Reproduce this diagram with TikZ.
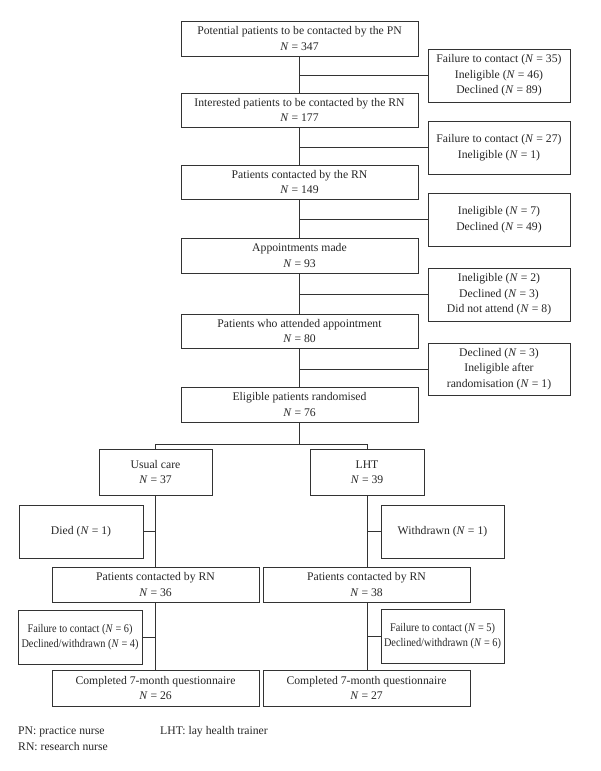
\documentclass[tikz,border=0pt]{standalone}
\usepackage{fontspec}
\setmainfont{Liberation Serif}
\begin{document}
\begin{tikzpicture}[x=1pt,y=-1pt,
  every node/.style={font=\fontsize{11.7}{15.5}\selectfont, text=black!85},
  box/.style={draw=black!80, line width=0.8pt, align=center, inner sep=0pt, anchor=center},
  narrow/.style={font=\fontsize{11.7}{15.5}\selectfont\addfontfeature{FakeStretch=0.88}},
  conn/.style={draw=black!80, line width=0.8pt},
  legend/.style={anchor=west, inner sep=0pt}]
\useasboundingbox (0,0) rectangle (600,771);
\newcommand{\Nv}{\textit{N}}
% main column
\node[box, minimum width=237pt, minimum height=35pt] (b1) at (299.5,38.5) {Potential patients to be contacted by the PN\\ \Nv{} = 347};
\node[box, minimum width=237pt, minimum height=34pt] (b2) at (299.5,110) {Interested patients to be contacted by the RN\\ \Nv{} = 177};
\node[box, minimum width=237pt, minimum height=34pt] (b3) at (299.5,182) {Patients contacted by the RN\\ \Nv{} = 149};
\node[box, minimum width=237pt, minimum height=35pt] (b4) at (299.5,255.5) {Appointments made\\ \Nv{} = 93};
\node[box, minimum width=237pt, minimum height=34pt] (b5) at (299.5,331) {Patients who attended appointment\\ \Nv{} = 80};
\node[box, minimum width=237pt, minimum height=35pt] (b6) at (299.5,404.5) {Eligible patients randomised\\ \Nv{} = 76};
% side boxes
\node[box, minimum width=142pt, minimum height=53pt] (s1) at (499,75.5) {Failure to contact (\Nv{} = 35)\\ Ineligible (\Nv{} = 46)\\ Declined (\Nv{} = 89)};
\node[box, minimum width=142pt, minimum height=53pt] (s2) at (499,147.5) {Failure to contact (\Nv{} = 27)\\ Ineligible (\Nv{} = 1)};
\node[box, minimum width=142pt, minimum height=53pt] (s3) at (499,219.5) {Ineligible (\Nv{} = 7)\\ Declined (\Nv{} = 49)};
\node[box, minimum width=142pt, minimum height=53pt] (s4) at (499,294.5) {Ineligible (\Nv{} = 2)\\ Declined (\Nv{} = 3)\\ Did not attend (\Nv{} = 8)};
\node[box, minimum width=142pt, minimum height=52pt] (s5) at (499,369) {Declined (\Nv{} = 3)\\ Ineligible after\\ randomisation (\Nv{} = 1)};
% arms
\node[box, minimum width=113pt, minimum height=46pt] (uc) at (155.5,472) {Usual care\\ \Nv{} = 37};
\node[box, minimum width=114pt, minimum height=46pt] (lht) at (367,472) {LHT\\ \Nv{} = 39};
\node[box, minimum width=124pt, minimum height=53pt] (died) at (81,531.5) {Died (\Nv{} = 1)};
\node[box, minimum width=123pt, minimum height=53pt] (wd) at (442.5,531.5) {Withdrawn (\Nv{} = 1)};
\node[box, minimum width=207pt, minimum height=35pt] (pl) at (155.5,584.5) {Patients contacted by RN\\ \Nv{} = 36};
\node[box, minimum width=207pt, minimum height=35pt] (pr) at (366.5,584.5) {Patients contacted by RN\\ \Nv{} = 38};
\node[box, narrow, minimum width=124pt, minimum height=54pt] (fl) at (80,637) {Failure to contact (\Nv{} = 6)\\ Declined/withdrawn (\Nv{} = 4)};
\node[box, narrow, minimum width=123pt, minimum height=54pt] (fr) at (442.5,636) {Failure to contact (\Nv{} = 5)\\ Declined/withdrawn (\Nv{} = 6)};
\node[box, minimum width=207pt, minimum height=36pt] (cl) at (155.5,688) {Completed 7-month questionnaire\\ \Nv{} = 26};
\node[box, minimum width=207pt, minimum height=36pt] (cr) at (366.5,688) {Completed 7-month questionnaire\\ \Nv{} = 27};
% legend
\node[legend] (lg1) at (18,732) {PN: practice nurse};
\node[legend] (lg2) at (18,747) {RN: research nurse};
\node[legend] (lg3) at (160,732) {LHT: lay health trainer};
% connectors main
\draw[conn] (b1.south) -- (b2.north);
\draw[conn] (b2.south) -- (b3.north);
\draw[conn] (b3.south) -- (b4.north);
\draw[conn] (b4.south) -- (b5.north);
\draw[conn] (b5.south) -- (b6.north);
\draw[conn] (b1.south |- s1.west) -- (s1.west);
\draw[conn] (b2.south |- s2.west) -- (s2.west);
\draw[conn] (b3.south |- s3.west) -- (s3.west);
\draw[conn] (b4.south |- s4.west) -- (s4.west);
\draw[conn] (b5.south |- s5.west) -- (s5.west);
% split
\coordinate (split) at (299.5,444);
\draw[conn] (b6.south) -- (split);
\draw[conn] (uc.north) -- (uc.north |- split) -- (lht.north |- split) -- (lht.north);
% arms
\draw[conn] (uc.south) -- (uc.south |- pl.north);
\draw[conn] (died.east) -- (uc.south |- died.east);
\draw[conn] (lht.south) -- (lht.south |- pr.north);
\draw[conn] (wd.west) -- (lht.south |- wd.west);
\draw[conn] (uc.south |- pl.south) -- (uc.south |- cl.north);
\draw[conn] (fl.east) -- (uc.south |- fl.east);
\draw[conn] (lht.south |- pr.south) -- (lht.south |- cr.north);
\draw[conn] (fr.west) -- (lht.south |- fr.west);
\end{tikzpicture}
\end{document}
